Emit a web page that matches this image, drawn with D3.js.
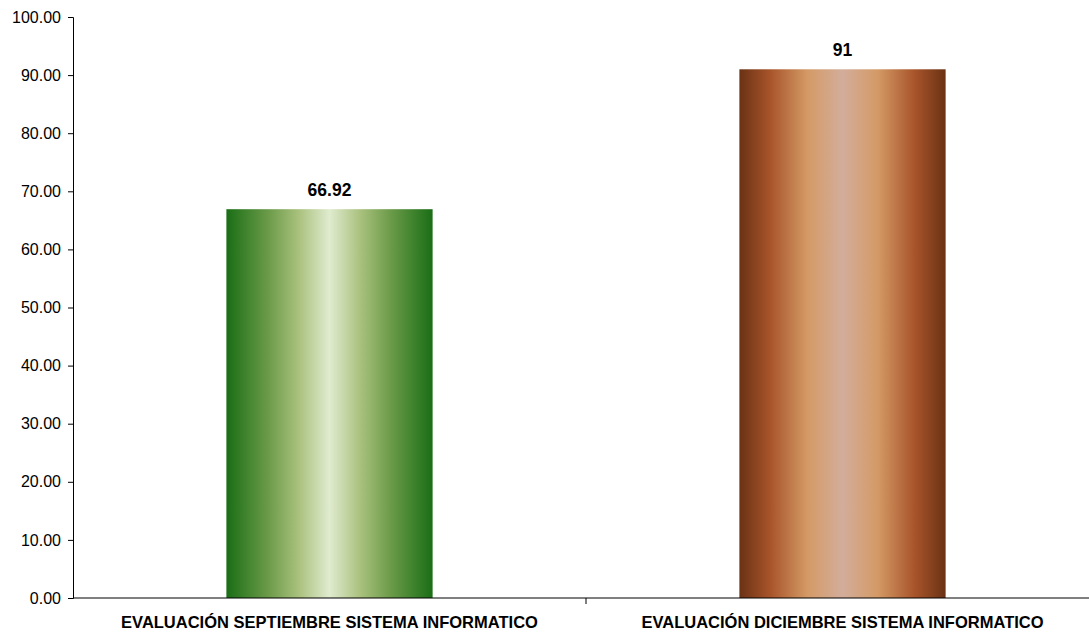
<!DOCTYPE html>
<html><head><meta charset="utf-8">
<script src="https://cdn.jsdelivr.net/npm/d3@7"></script>
<style>body{margin:0;background:#fff}svg{display:block;font-family:"Liberation Sans",Arial,sans-serif}</style>
</head><body>
<svg id="c" width="1089" height="632"></svg>
<script>
const categories = ["EVALUACIÓN SEPTIEMBRE SISTEMA INFORMATICO", "EVALUACIÓN DICIEMBRE SISTEMA INFORMATICO"];
const values = [66.92, 91];
const valueLabels = ["66.92", "91"];
const yTicks = [0, 10, 20, 30, 40, 50, 60, 70, 80, 90, 100];

const svg = d3.select("#c");
const x = d3.scaleBand().domain(categories).range([73, 1099]).paddingInner(0.598).paddingOuter(0.299);
const y = d3.scaleLinear().domain([0, 100]).range([598, 17]);

const defs = svg.append("defs");
const grads = [
  [[0,"#1a6e16"],[0.2,"#6a9a48"],[0.35,"#a9c17d"],[0.5,"#e0ebcf"],[0.65,"#a9c17d"],[0.8,"#6a9a48"],[1,"#1a6e16"]],
  [[0,"#6a3214"],[0.15,"#a8542a"],[0.33,"#d49a66"],[0.5,"#d3ad9b"],[0.67,"#d49a66"],[0.85,"#a8542a"],[1,"#6a3214"]]
];
grads.forEach((stops, i) => {
  const g = defs.append("linearGradient").attr("id", "g" + i).attr("x1", "0").attr("x2", "1").attr("y1", "0").attr("y2", "0");
  stops.forEach(s => g.append("stop").attr("offset", s[0]).attr("stop-color", s[1]));
});

svg.selectAll("rect.bar").data(values).enter().append("rect")
  .attr("class", "bar")
  .attr("x", (d, i) => x(categories[i]))
  .attr("width", x.bandwidth())
  .attr("y", d => y(d))
  .attr("height", d => y(0) - y(d))
  .attr("fill", (d, i) => "url(#g" + i + ")");

svg.selectAll("text.vl").data(values).enter().append("text")
  .attr("x", (d, i) => x(categories[i]) + x.bandwidth() / 2)
  .attr("y", d => y(d) - 13)
  .attr("text-anchor", "middle")
  .attr("font-weight", "bold").attr("font-size", 17.5)
  .text((d, i) => valueLabels[i]);

const yAxis = svg.append("g").attr("transform", "translate(73,0)")
  .call(d3.axisLeft(y).tickValues(yTicks).tickFormat(d3.format(".2f")).tickSize(5).tickPadding(7));
yAxis.attr("font-size", 16).attr("font-family", "Liberation Sans, Arial, sans-serif");
yAxis.selectAll("text").attr("font-size", 16).attr("fill", "#000");
yAxis.selectAll("line,path").attr("stroke", "#000");

const xAxis = svg.append("g").attr("transform", "translate(0,598)");
xAxis.append("line").attr("x1", 73).attr("x2", 1099).attr("stroke", "#000");
const bounds = [73 + (1099 - 73) / 2, 1099];
xAxis.selectAll("line.t").data(bounds).enter().append("line")
  .attr("x1", d => d).attr("x2", d => d).attr("y1", 0).attr("y2", 6).attr("stroke", "#000");
xAxis.selectAll("text").data(categories).enter().append("text")
  .attr("x", d => x(d) + x.bandwidth() / 2)
  .attr("y", 30)
  .attr("text-anchor", "middle").attr("font-weight", "bold").attr("font-size", 16.5)
  .text(d => d);
</script>
</body></html>
